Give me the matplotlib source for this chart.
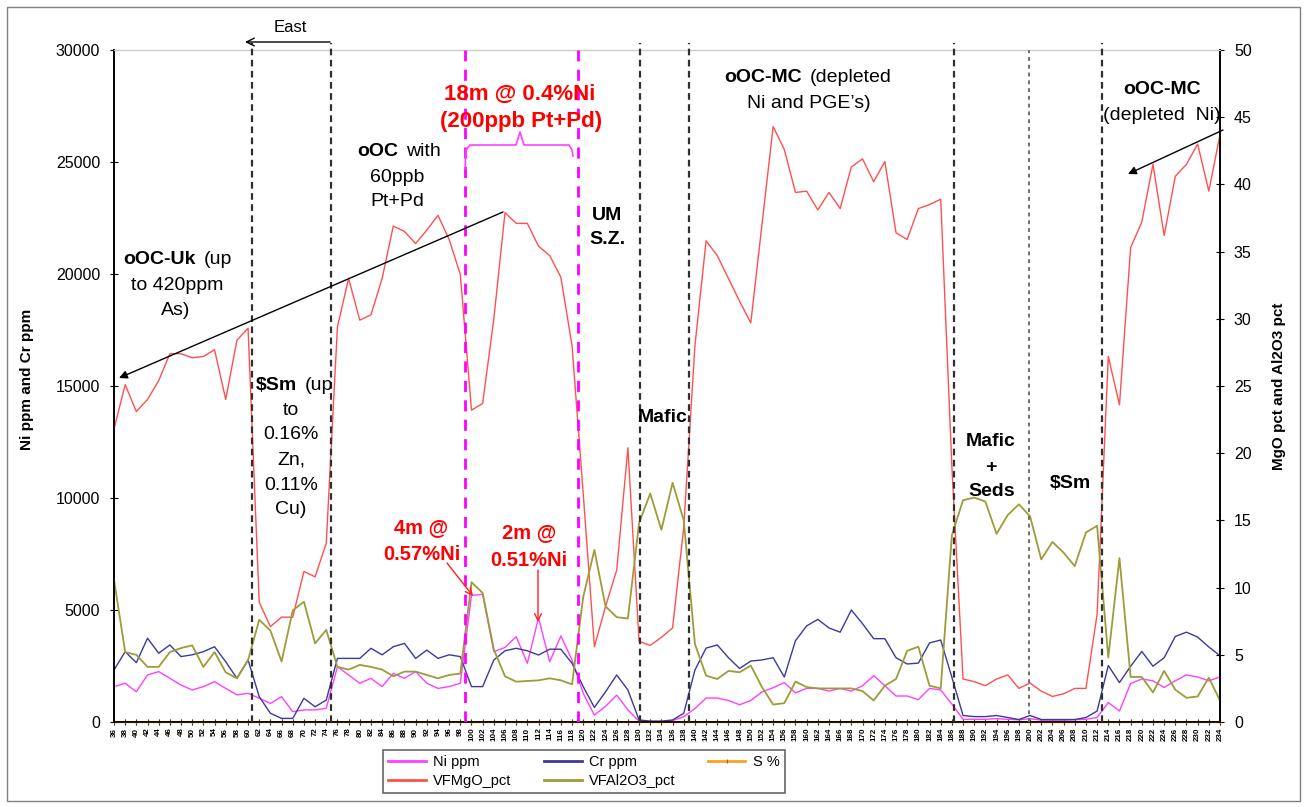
import matplotlib
matplotlib.use("Agg")
import matplotlib.pyplot as plt
from matplotlib.lines import Line2D
from matplotlib.patches import Rectangle, FancyArrowPatch

plt.rcParams['font.family'] = ['Liberation Sans', 'DejaVu Sans']

W, H = 1307, 807

# ------------- data -------------
depth = list(range(36, 236, 2))

ni_ppm = [1580, 1730, 1350, 2100, 2250, 1950, 1650, 1430, 1580, 1800,
          1500, 1210, 1280, 1060, 830, 1130, 460, 540, 540, 610,
          2470, 2100, 1730, 1950, 1580, 2170, 1950, 2250, 1730, 1500,
          1580, 1730, 5650, 5700, 3140, 3330, 3810, 2620, 4650, 2690,
          3840, 2770, 1280, 310, 700, 1200, 540, 40, 20, 20,
          60, 240, 600, 1070, 1070, 960, 770, 960, 1340, 1530,
          1760, 1300, 1500, 1500, 1380, 1500, 1380, 1620, 2070, 1620,
          1160, 1160, 1000, 1500, 1430, 800, 120, 120, 120, 150,
          120, 100, 150, 80, 80, 80, 100, 120, 200, 870,
          490, 1720, 1920, 1840, 1540, 1840, 2100, 2010, 1840, 2010]

cr_ppm = [2320, 3140, 2650, 3740, 3070, 3440, 2920, 3000, 3140, 3360,
          2690, 1950, 2770, 1130, 390, 160, 160, 1060, 680, 980,
          2840, 2840, 2840, 3290, 3000, 3360, 3510, 2840, 3210, 2840,
          3000, 2920, 1580, 1580, 2770, 3180, 3290, 3180, 2990, 3250,
          3250, 2620, 1580, 650, 1350, 2100, 1430, 90, 40, 40,
          90, 390, 2320, 3300, 3440, 2870, 2390, 2720, 2770, 2870,
          2010, 3630, 4290, 4580, 4200, 4010, 5000, 4390, 3720, 3720,
          2870, 2590, 2630, 3530, 3660, 2000, 290, 240, 240, 290,
          200, 110, 290, 110, 110, 110, 110, 200, 490, 2520,
          1760, 2490, 3150, 2490, 2870, 3820, 4010, 3790, 3350, 2960]

s_pct = [0.0] * 100  # flat on the axis all the way along

mgo_pct = [21.8, 25.1, 23.1, 24.0, 25.4, 27.4, 27.4, 27.1, 27.2, 27.7,
           24.0, 28.4, 29.3, 8.9, 7.1, 7.8, 7.8, 11.2, 10.8, 13.3,
           29.4, 33.0, 29.9, 30.3, 33.0, 36.9, 36.5, 35.6, 36.6, 37.7,
           35.9, 33.3, 23.2, 23.7, 30.0, 37.9, 37.1, 37.1, 35.4, 34.7,
           33.1, 28.0, 17.0, 5.6, 8.6, 11.3, 20.4, 6.0, 5.7, 6.3,
           7.0, 14.5, 28.0, 35.8, 34.7, 33.0, 31.3, 29.7, 37.0, 44.3,
           42.6, 39.4, 39.5, 38.1, 39.4, 38.2, 41.3, 41.9, 40.2, 41.7,
           36.4, 35.9, 38.2, 38.5, 38.9, 19.0, 3.2, 3.0, 2.7, 3.2,
           3.5, 2.5, 2.9, 2.3, 1.9, 2.1, 2.5, 2.5, 8.0, 27.2,
           23.6, 35.3, 37.2, 41.5, 36.2, 40.6, 41.5, 43.0, 39.5, 43.7]

al2o3_pct = [10.6, 5.2, 5.0, 4.1, 4.1, 5.2, 5.5, 5.7, 4.1, 5.2,
             3.7, 3.25, 4.6, 7.6, 6.8, 4.5, 8.3, 8.95, 5.85, 6.85,
             4.1, 3.9, 4.25, 4.1, 3.9, 3.4, 3.75, 3.75, 3.5, 3.25,
             3.5, 3.6, 10.4, 9.6, 5.4, 3.4, 3.0, 3.05, 3.1, 3.25,
             3.1, 2.8, 9.3, 12.8, 8.6, 7.8, 7.7, 14.8, 17.0, 14.3,
             17.8, 15.0, 5.8, 3.45, 3.2, 3.8, 3.7, 4.2, 2.6, 1.3,
             1.4, 3.0, 2.6, 2.5, 2.5, 2.5, 2.5, 2.3, 1.6, 2.7,
             3.2, 5.3, 5.6, 2.7, 2.5, 13.9, 16.5, 16.7, 16.4, 14.0,
             15.4, 16.2, 15.3, 12.1, 13.4, 12.6, 11.6, 14.1, 14.6, 4.8,
             12.2, 3.35, 3.35, 2.2, 3.8, 2.4, 1.8, 1.9, 3.3, 1.6]

# unit boundaries (depth, m)
bounds_dashed = [60.7, 74.8, 130.1, 138.9, 186.3, 212.9]
bounds_dotted = [199.8]
bounds_ore = [98.8, 119.0]

C_NI = "#FF40FF"
C_CR = "#3A3A9C"
C_S = "#FFA020"
C_MGO = "#FF5050"
C_AL = "#9C9C3A"


def fx(px):
    return px / W


def fy(py):
    return 1 - py / H


# ------------- figure -------------
fig = plt.figure(figsize=(W / 100, H / 100), dpi=100)
ax = fig.add_axes([fx(114), fy(722), fx(1220) - fx(114), fy(50) - fy(722)])
ax2 = ax.twinx()

(l_ni,) = ax.plot(depth, ni_ppm, color=C_NI, lw=1.0, label="Ni ppm")
(l_cr,) = ax.plot(depth, cr_ppm, color=C_CR, lw=1.0, label="Cr ppm")
(l_s,) = ax2.plot(depth, s_pct, color=C_S, lw=1.0, marker="|", ms=3,
                  mec="#A06030", mew=0.8, label="S %", clip_on=False)
(l_mgo,) = ax2.plot(depth, mgo_pct, color=C_MGO, lw=1.0, label="VFMgO_pct")
(l_al,) = ax2.plot(depth, al2o3_pct, color=C_AL, lw=1.3, label="VFAl2O3_pct")

ax.set_xlim(36, 234)
ax.set_ylim(0, 30000)
ax2.set_ylim(0, 50)
ax.set_xticks(depth)
ax.set_xticklabels([str(d) for d in depth], rotation=90, fontsize=5.8,
                   fontweight="bold")
ax.set_yticks(range(0, 30001, 5000))
ax2.set_yticks(range(0, 51, 5))
ax.tick_params(axis="y", direction="inout", length=6, labelsize=11.5, pad=7)
ax2.tick_params(axis="y", direction="inout", length=6, labelsize=11.5, pad=7)
ax.tick_params(axis="x", direction="inout", length=4, pad=2)

for a in (ax, ax2):
    a.spines["top"].set_color("#c8c8c8")
    a.spines["left"].set_linewidth(1.2)
    a.spines["right"].set_linewidth(1.2)
    a.spines["bottom"].set_linewidth(1.2)

ax.set_ylabel("Ni ppm and Cr ppm", fontsize=11, fontweight="bold")
ax.yaxis.set_label_coords(-0.072, 0.51)
ax2.set_ylabel("MgO pct and Al2O3 pct", fontsize=11, fontweight="bold")
ax2.yaxis.set_label_coords(1.047, 0.50)

# unit boundaries
for d in bounds_dashed:
    ax2.axvline(d, ymin=0, ymax=1.01, color="#303030", lw=1.6,
                dashes=(3, 2), clip_on=False, zorder=5)
for d in bounds_dotted:
    ax2.axvline(d, ymin=0, ymax=1.0, color="#707070", lw=1.4,
                dashes=(2, 2), zorder=5)
for d in bounds_ore:
    ax2.axvline(d, ymin=0, ymax=1.0, color="#FF00FF", lw=2.0,
                dashes=(4, 3), zorder=5)

# ------------- annotations -------------
TXT = 14
RED_BIG = 16
RED = 14.5


def t(x, y, s, ha="center", **kw):
    kw.setdefault("fontsize", TXT)
    fig.text(fx(x), fy(y), s, ha=ha, va="center", **kw)


def bold_line(xsplit, y, bold, normal, color="black"):
    t(xsplit, y, bold, ha="right", fontweight="bold", color=color)
    t(xsplit + 8, y, normal, ha="left", color=color)


def arrow(x0, y0, x1, y1, color="black", style="-|>", lw=1.0, ms=10):
    fig.add_artist(FancyArrowPatch(
        (fx(x0), fy(y0)), (fx(x1), fy(y1)), transform=fig.transFigure,
        arrowstyle=style, mutation_scale=ms, color=color, lw=lw,
        shrinkA=0, shrinkB=0))


# East marker
t(290, 27, "East", fontsize=12)
arrow(330, 42, 245, 42, style="->", lw=1.0, ms=14)

# oOC-Uk
bold_line(196, 260, "oOC-Uk", "(up")
t(177, 285, "to 420ppm")
t(176, 310, "As)")
arrow(503, 212, 119, 378, style="-|>", lw=1.0, ms=12)

# $Sm (up to ...)
bold_line(297, 385, "$Sm", "(up")
for yy, s in zip([410, 435, 460, 485, 510], ["to", "0.16%", "Zn,", "0.11%", "Cu)"]):
    t(291, yy, s)

# oOC with 60ppb Pt+Pd
bold_line(398, 152, "oOC", "with")
t(397, 178, "60ppb")
t(397, 202, "Pt+Pd")

# 18m @ 0.4%Ni
t(520, 94, "18m @ 0.4%Ni", color="#FF0000", fontweight="bold", fontsize=RED_BIG)
t(521, 121, "(200ppb Pt+Pd)", color="#FF0000", fontweight="bold", fontsize=RED_BIG)
bx = [465, 466, 470, 516, 520, 524, 569, 572, 573]
by = [169, 150, 145, 145, 132, 145, 145, 150, 156]
fig.add_artist(Line2D([fx(v) for v in bx], [fy(v) for v in by],
                      transform=fig.transFigure, color="#FF40FF", lw=1.2))

# UM S.Z.
t(607, 215, "UM", fontweight="bold")
t(607, 240, "S.Z.", fontweight="bold")

t(663, 417, "Mafic", fontweight="bold")

# oOC-MC (depleted Ni and PGE's)
bold_line(802, 78, "oOC-MC", "(depleted")
t(809, 103, "Ni and PGE\u2019s)")

# Mafic + Seds, $Sm
t(991, 442, "Mafic", fontweight="bold")
t(991, 467, "+", fontweight="bold")
t(992, 492, "Seds", fontweight="bold")
t(1070, 484, "$Sm", fontweight="bold")

# oOC-MC (depleted Ni)
t(1162, 90, "oOC-MC", fontweight="bold")
t(1162, 115, "(depleted  Ni)")
arrow(1223, 130, 1128, 174, style="-|>", lw=1.0, ms=12)

# 4m / 2m intercepts
t(421, 528, "4m @", color="#FF0000", fontweight="bold", fontsize=RED)
t(422, 555, "0.57%Ni", color="#FF0000", fontweight="bold", fontsize=RED)
arrow(447, 563, 473, 596, color="#FF2020", style="->", lw=1.0, ms=12)
t(529, 533, "2m @", color="#FF0000", fontweight="bold", fontsize=RED)
t(529, 561, "0.51%Ni", color="#FF0000", fontweight="bold", fontsize=RED)
arrow(538, 570, 538, 622, color="#FF2020", style="->", lw=1.0, ms=12)

# ------------- legend -------------
leg = fig.legend([l_ni, l_mgo, l_cr, l_al, l_s],
                 ["Ni ppm", "VFMgO_pct", "Cr ppm", "VFAl2O3_pct", "S %"],
                 ncol=3, loc="upper left", bbox_to_anchor=(fx(383), fy(750)),
                 fontsize=10.5, frameon=True, fancybox=False,
                 handlelength=2.6, handletextpad=0.5, columnspacing=2.2,
                 borderpad=0.35, labelspacing=0.35, borderaxespad=0)
leg.get_frame().set_edgecolor("#404040")
leg.get_frame().set_linewidth(1.2)
for h in leg.legend_handles:
    h.set_linewidth(2.0)

# outer chart border
fig.add_artist(Rectangle((fx(7), fy(801)), fx(1300) - fx(7), fy(7) - fy(801),
                         transform=fig.transFigure, fill=False,
                         edgecolor="#808080", lw=1.0))

fig.savefig("out.png", dpi=100)
